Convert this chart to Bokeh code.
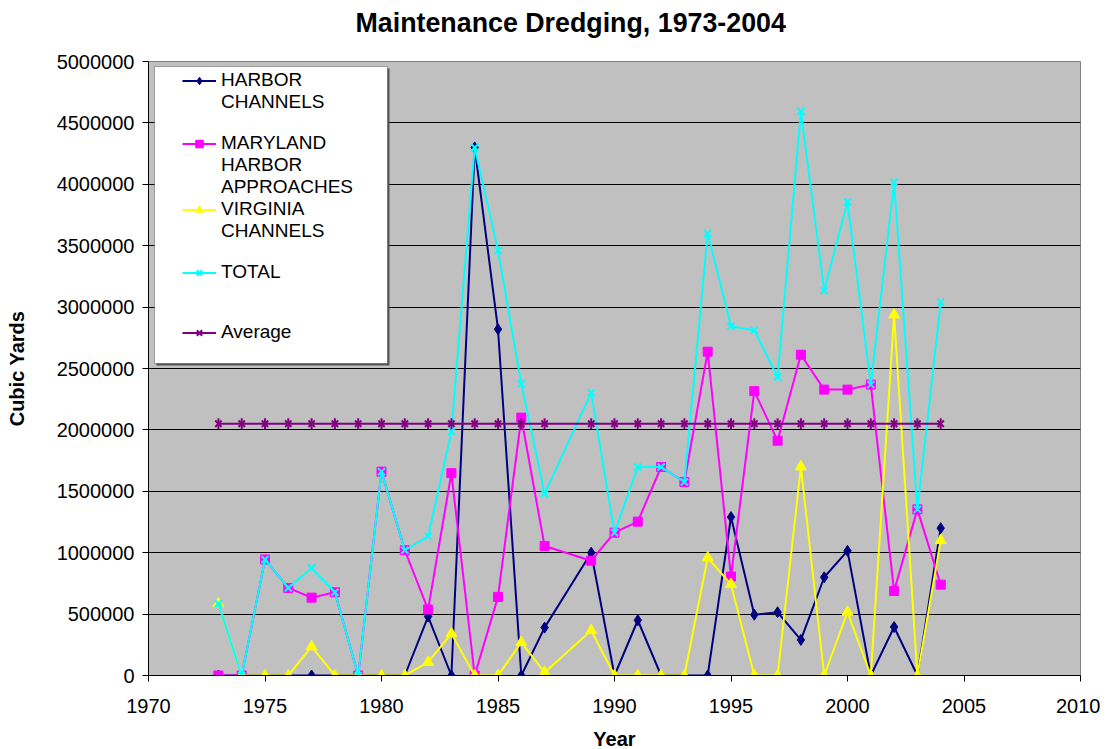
from bokeh.plotting import figure
from bokeh.models import (Legend, LegendItem, BoxAnnotation, FixedTicker, Range1d, Title,
                          NumeralTickFormatter, BasicTickFormatter)
from bokeh.embed import file_html
from bokeh.resources import INLINE

# ---------------- data ----------------
years = [1973, 1974, 1975, 1976, 1977, 1978, 1979, 1980, 1981, 1982, 1983, 1984, 1985,
         1986, 1987, 1989, 1990, 1991, 1992, 1993, 1994, 1995, 1996, 1997, 1998, 1999,
         2000, 2001, 2002, 2003, 2004]

harbor_channels = [0, 0, 0, 0, 0, 0, 0, 0, 0, 480000, 0, 4300000, 2820000, 0, 390000,
                   1000000, 0, 450000, 0, 0, 0, 1290000, 495000, 515000, 290000, 800000,
                   1015000, 0, 395000, 0, 1200000]

maryland_approaches = [0, 0, 945000, 713000, 634000, 678000, 0, 1660000, 1020000, 537000,
                       1648000, 0, 640000, 2100000, 1054000, 935000, 1163000, 1253000,
                       1698000, 1576000, 2637000, 806000, 2316000, 1912000, 2612000,
                       2328000, 2328000, 2369000, 688000, 1353000, 740000]

virginia_channels = [585000, 0, 0, 0, 235000, 0, 0, 0, 0, 108000, 341000, 0, 0, 270000,
                     25000, 367000, 0, 0, 0, 0, 959000, 742000, 0, 0, 1700000, 0, 516000,
                     0, 2937000, 0, 1100000]

total = [585000, 0, 945000, 713000, 875000, 678000, 0, 1660000, 1020000, 1133000, 1986000,
         4300000, 3462000, 2375000, 1481000, 2302000, 1163000, 1698000, 1698000, 1576000,
         3600000, 2844000, 2812000, 2431000, 4594000, 3134000, 3856000, 2369000, 4016000,
         1353000, 3040000]

average_value = 2050000
average = [average_value for _ in years]

x_ticks = [1970, 1975, 1980, 1985, 1990, 1995, 2000, 2005, 2010]
y_ticks = [0, 500000, 1000000, 1500000, 2000000, 2500000, 3000000, 3500000, 4000000,
           4500000, 5000000]

title_text = "Maintenance Dredging, 1973-2004"
x_label = "Year"
y_label = "Cubic Yards"

FONT = "Liberation Sans"

# ---------------- figure ----------------
p = figure(frame_width=932, frame_height=614,
           x_range=Range1d(1970, 2010), y_range=Range1d(0, 5000000),
           output_backend="svg", toolbar_location=None,
           min_border_left=148, min_border_right=20, min_border_top=61, min_border_bottom=73,
           background_fill_color="#C0C0C0", border_fill_color="white",
           outline_line_color="#808080", outline_line_width=1,
           title=title_text)

p.title.text_font = FONT
p.title.text_font_size = "26.8px"
p.title.text_font_style = "bold"
p.title.text_color = "black"
p.title.align = "left"
p.title.offset = 207
p.title.standoff = 0

# blank spacer between title and plot area
spacer = Title(text=" ", text_font_size="13px", standoff=7)
p.add_layout(spacer, "above")

for ax in (p.xaxis[0], p.yaxis[0]):
    ax.axis_line_color = "black"
    ax.axis_line_width = 1
    ax.major_tick_line_color = "black"
    ax.major_tick_out = 6
    ax.major_tick_in = 0
    ax.minor_tick_line_color = None
    ax.major_label_text_font = FONT
    ax.major_label_text_font_size = "20px"
    ax.major_label_text_color = "black"
    ax.axis_label_text_font = FONT
    ax.axis_label_text_font_size = "20px"
    ax.axis_label_text_font_style = "bold"
    ax.axis_label_text_color = "black"

p.xaxis.ticker = FixedTicker(ticks=x_ticks)
p.xaxis.formatter = BasicTickFormatter(use_scientific=False)
p.xaxis.axis_label = x_label
p.xaxis.major_label_standoff = 17
p.xaxis.axis_label_standoff = 12

p.yaxis.ticker = FixedTicker(ticks=y_ticks)
p.yaxis.formatter = NumeralTickFormatter(format="0")
p.yaxis.axis_label = y_label
p.yaxis.major_label_standoff = 8
p.yaxis.axis_label_standoff = 26

p.xgrid.grid_line_color = None
p.ygrid.ticker = FixedTicker(ticks=y_ticks)
p.ygrid.grid_line_color = "black"
p.ygrid.grid_line_width = 1

# ---------------- series ----------------
LW = 2
h_line = p.line(years, harbor_channels, line_color="#000080", line_width=LW)
h_pts = p.scatter(years, harbor_channels, marker="diamond", size=11,
                  fill_color="#000080", line_color="#000080")

m_line = p.line(years, maryland_approaches, line_color="#FF00FF", line_width=LW)
m_pts = p.scatter(years, maryland_approaches, marker="square", size=9,
                  fill_color="#FF00FF", line_color="#FF00FF")

v_line = p.line(years, virginia_channels, line_color="#FFFF00", line_width=LW)
v_pts = p.scatter(years, virginia_channels, marker="triangle", size=11,
                  fill_color="#FFFF00", line_color="#FFFF00")

t_line = p.line(years, total, line_color="#00FFFF", line_width=LW)
t_pts = p.scatter(years, total, marker="x", size=10, line_color="#00FFFF", line_width=2)

a_line = p.line(years, average, line_color="#800080", line_width=LW)
a_pts1 = p.scatter(years, average, marker="x", size=9, line_color="#800080", line_width=2)
a_pts2 = p.scatter(years, average, marker="dash", angle=1.5708, size=11,
                   line_color="#800080", line_width=2)

# ---------------- legend ----------------
shadow = BoxAnnotation(left=8, right=241, top=607, bottom=310,
                       left_units="screen", right_units="screen",
                       top_units="screen", bottom_units="screen",
                       fill_color="#555555", fill_alpha=1, line_color=None)
box = BoxAnnotation(left=6, right=239, top=609, bottom=312,
                    left_units="screen", right_units="screen",
                    top_units="screen", bottom_units="screen",
                    fill_color="white", fill_alpha=1, line_color="black", line_width=1)
p.add_layout(shadow)
p.add_layout(box)

items = [
    LegendItem(label="HARBOR", renderers=[h_line, h_pts]),
    LegendItem(label="CHANNELS", renderers=[]),
    LegendItem(label=" ", renderers=[]),
    LegendItem(label="MARYLAND", renderers=[m_line, m_pts]),
    LegendItem(label="HARBOR", renderers=[]),
    LegendItem(label="APPROACHES", renderers=[]),
    LegendItem(label="VIRGINIA", renderers=[v_line, v_pts]),
    LegendItem(label="CHANNELS", renderers=[]),
    LegendItem(label=" ", renderers=[]),
    LegendItem(label="TOTAL", renderers=[t_line, t_pts]),
    LegendItem(label=" ", renderers=[]),
    LegendItem(label=" ", renderers=[]),
    LegendItem(label="Average", renderers=[a_line, a_pts1, a_pts2]),
    LegendItem(label=" ", renderers=[]),
]
legend = Legend(items=items, location=(34, 313), padding=0, margin=0, spacing=0,
                glyph_width=34, glyph_height=19, label_height=19, label_standoff=5,
                label_text_font=FONT, label_text_font_size="19px", label_text_color="black",
                background_fill_alpha=0, border_line_alpha=0)
p.add_layout(legend)

open("out.html", "w").write(file_html(p, INLINE))
